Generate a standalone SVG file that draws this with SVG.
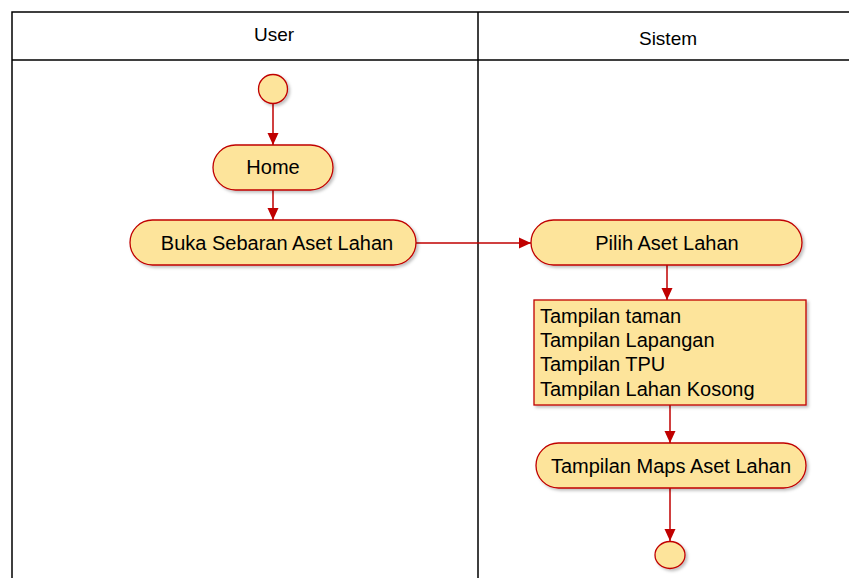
<svg xmlns="http://www.w3.org/2000/svg" width="849" height="578" viewBox="0 0 849 578">
  <defs>
    <marker id="arrow" viewBox="0 0 12 12" refX="12" refY="6" markerWidth="12" markerHeight="12" markerUnits="userSpaceOnUse" orient="auto">
      <path d="M0,0.5 L12,6 L0,11.5 Z" fill="#c00000"/>
    </marker>
    <filter id="shadow" x="-10%" y="-20%" width="130%" height="150%">
      <feDropShadow dx="2" dy="2" stdDeviation="1.5" flood-color="#000" flood-opacity="0.25"/>
    </filter>
  </defs>
  <style>
    .lane { fill: none; stroke: #000; stroke-width: 1.5; }
    .head { font-family: "Liberation Sans", Arial, sans-serif; font-size: 19px; fill: #000; text-anchor: middle; }
    .act { fill: #fde49b; stroke: #c00000; stroke-width: 1.3; filter: url(#shadow); }
    .label { font-family: "Liberation Sans", Arial, sans-serif; font-size: 20px; fill: #000; text-anchor: middle; dominant-baseline: central; }
    .list { font-family: "Liberation Sans", Arial, sans-serif; font-size: 20px; fill: #000; }
    .flow { fill: none; stroke: #c00000; stroke-width: 1.5; marker-end: url(#arrow); }
  </style>
  <rect width="849" height="578" fill="#fff"/>

  <!-- swimlanes -->
  <g id="lanes">
    <path class="lane" d="M12,578 V12 H849 M12,60 H849 M478,12 V578"/>
    <text class="head" x="274" y="41">User</text>
    <text class="head" x="668" y="45">Sistem</text>
  </g>

  <!-- connectors -->
  <g id="connectors">
    <path class="flow" d="M273,103 V145"/>
    <path class="flow" d="M273,190 V220"/>
    <path class="flow" d="M416,243 H531"/>
    <path class="flow" d="M667,265 V300"/>
    <path class="flow" d="M670,405 V443"/>
    <path class="flow" d="M670,488 V541"/>
  </g>

  <g id="start">
    <circle class="act" cx="273" cy="89" r="14.5"/>
  </g>

  <g id="home">
    <rect class="act" x="213" y="145" width="120" height="45" rx="22.5"/>
    <text class="label" x="273" y="167">Home</text>
  </g>

  <g id="buka-sebaran">
    <rect class="act" x="130" y="220" width="286" height="45" rx="22.5"/>
    <text class="label" x="277" y="243">Buka Sebaran Aset Lahan</text>
  </g>

  <g id="pilih-aset">
    <rect class="act" x="531" y="220" width="271" height="45" rx="22.5"/>
    <text class="label" x="667" y="243">Pilih Aset Lahan</text>
  </g>

  <g id="tampilan-list">
    <rect class="act" x="534" y="300" width="272" height="105" rx="0"/>
    <text class="list" x="540" y="323">Tampilan taman</text>
    <text class="list" x="540" y="347">Tampilan Lapangan</text>
    <text class="list" x="540" y="371">Tampilan TPU</text>
    <text class="list" x="540" y="396">Tampilan Lahan Kosong</text>
  </g>

  <g id="tampilan-maps">
    <rect class="act" x="536" y="443" width="270" height="45" rx="22.5"/>
    <text class="label" x="671" y="466">Tampilan Maps Aset Lahan</text>
  </g>

  <g id="end">
    <ellipse class="act" cx="670" cy="555" rx="15" ry="13.5"/>
  </g>
</svg>
